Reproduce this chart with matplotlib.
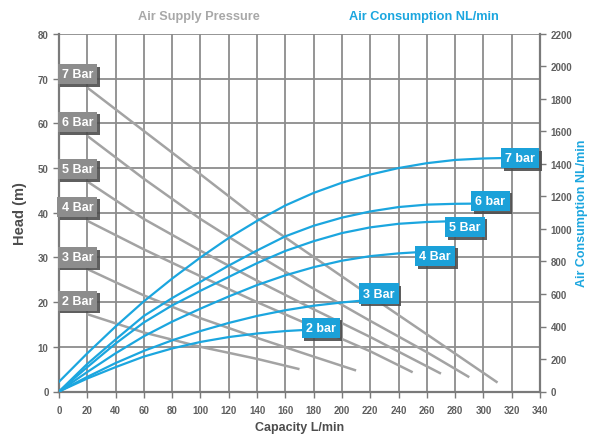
import matplotlib
matplotlib.use('Agg')
import matplotlib.pyplot as plt
import matplotlib.patheffects as pe

plt.rcParams['font.family'] = ['Liberation Sans', 'DejaVu Sans']

# ---------------- data ----------------
# Air supply pressure curves: head (m) vs capacity (L/min)
head_labels = ['7 Bar', '6 Bar', '5 Bar', '4 Bar', '3 Bar', '2 Bar']
cap_7 = [20, 60, 100, 140, 180, 220, 260, 310]
head_7 = [68, 58.3, 48.6, 38.8, 30.1, 21.4, 12.8, 2]
cap_6 = [20, 60, 100, 140, 180, 220, 260, 290]
head_6 = [57.2, 47.6, 38.6, 30.6, 23, 15.8, 8.8, 3.2]
cap_5 = [20, 60, 100, 140, 180, 220, 270]
head_5 = [47, 38.6, 31.5, 24.8, 18.4, 12.2, 4]
cap_4 = [20, 60, 100, 140, 180, 220, 250]
head_4 = [38.2, 31.8, 25.8, 20, 14.5, 9, 4.3]
cap_3 = [20, 60, 100, 140, 180, 210]
head_3 = [27.4, 21.5, 16.4, 12, 7.8, 4.7]
cap_2 = [20, 60, 100, 140, 170]
head_2 = [17.3, 13.2, 10, 7.3, 5]

# Air consumption curves: NL/min vs capacity (L/min)
air_labels = ['7 bar', '6 bar', '5 Bar', '4 Bar', '3 Bar', '2 bar']
acap_7 = [0, 20, 40, 60, 80, 100, 120, 140, 160, 180, 200, 220, 240, 260, 280, 300, 315]
air_7 = [60, 235, 400, 555, 695, 825, 945, 1050, 1145, 1222, 1285, 1335, 1375, 1405, 1425, 1434, 1437]
acap_6 = [0, 20, 40, 60, 80, 100, 120, 140, 160, 180, 200, 220, 240, 260, 280, 292]
air_6 = [0, 170, 320, 465, 575, 675, 775, 868, 955, 1020, 1070, 1108, 1135, 1150, 1155, 1156]
acap_5 = [0, 20, 40, 60, 80, 100, 120, 140, 160, 180, 200, 220, 240, 260, 274]
air_5 = [0, 150, 295, 425, 530, 620, 705, 790, 865, 925, 975, 1010, 1032, 1043, 1047]
acap_4 = [0, 20, 40, 60, 80, 100, 120, 140, 160, 180, 200, 220, 240, 253]
air_4 = [0, 120, 235, 340, 430, 510, 585, 655, 715, 765, 805, 833, 850, 857]
acap_3 = [0, 20, 40, 60, 80, 100, 120, 140, 160, 180, 200, 214]
air_3 = [0, 90, 175, 250, 315, 372, 422, 465, 500, 528, 548, 559]
acap_2 = [0, 20, 40, 60, 80, 100, 120, 140, 160, 172]
air_2 = [0, 80, 150, 215, 265, 305, 335, 357, 372, 378]

x_ticks = list(range(0, 341, 20))
y_ticks = list(range(0, 81, 10))
y2_ticks = list(range(0, 2201, 200))

# ---------------- style ----------------
GRAY_LINE = '#a3a3a3'
GRID = '#8c8c8c'
BLUE = '#1ba6df'
BLUE_BOX = '#1ba1d9'
GRAY_BOX = '#8d8d8d'
TICK_C = '#5f5f5f'

fig = plt.figure(figsize=(5.94, 4.35), dpi=100)
ax = fig.add_axes([59/594, 1-392.5/435, 481/594, 357.5/435])
ax.set_xlim(0, 340)
ax.set_ylim(0, 80)
ax.set_xticks(x_ticks)
ax.set_yticks(y_ticks)
ax.grid(True, color=GRID, lw=1.3, zorder=0)
ax.set_axisbelow(True)
for s in ['top', 'right']:
    ax.spines[s].set_visible(False)
for s in ['left', 'bottom']:
    ax.spines[s].set_color('#7a7a7a')
    ax.spines[s].set_linewidth(1.6)
ax.tick_params(axis='both', colors='#7a7a7a', labelcolor=TICK_C, labelsize=7,
               length=4, width=1)
ax.tick_params(axis='x', pad=6)
for lbl in ax.get_xticklabels() + ax.get_yticklabels():
    lbl.set_fontweight('bold')

gray_series = [(cap_7, head_7), (cap_6, head_6), (cap_5, head_5),
               (cap_4, head_4), (cap_3, head_3), (cap_2, head_2)]
for cx, hy in gray_series:
    ax.plot(cx, hy, color=GRAY_LINE, lw=1.8, solid_capstyle='butt', zorder=2)

ax2 = ax.twinx()
ax2.set_ylim(0, 2200)
ax2.set_yticks(y2_ticks)
for s in ['top', 'left', 'bottom']:
    ax2.spines[s].set_visible(False)
ax2.spines['right'].set_color('#7a7a7a')
ax2.spines['right'].set_linewidth(1.6)
ax2.tick_params(axis='y', colors='#7a7a7a', labelcolor=TICK_C, labelsize=7,
                length=4, width=1)
for lbl in ax2.get_yticklabels():
    lbl.set_fontweight('bold')

blue_series = [(acap_7, air_7), (acap_6, air_6), (acap_5, air_5),
               (acap_4, air_4), (acap_3, air_3), (acap_2, air_2)]
for cx, ny in blue_series:
    ax2.plot(cx, ny, color=BLUE, lw=1.6, zorder=3)


def box_label(axis, x, y, text, color):
    t = axis.text(x, y, text, ha='center', va='center', fontsize=9,
                  fontweight='bold', color='white', zorder=6,
                  bbox=dict(boxstyle='square,pad=0.33', fc=color, ec='none'))
    t.get_bbox_patch().set_path_effects([
        pe.SimplePatchShadow(offset=(1.8, -1.8), shadow_rgbFace='#4d4d4d', alpha=0.9),
        pe.Normal()])


# gray pressure labels (left), positioned in head units
gray_label_pos = [(13, 71), (13, 60.3), (13, 49.8), (13, 41.3), (13, 30), (13, 20.3)]
for (x, y), t in zip(gray_label_pos, head_labels):
    box_label(ax, x, y, t, GRAY_BOX)

# blue consumption labels, positioned in NL/min units
blue_label_pos = [(326, 1436), (305, 1172), (287, 1012), (266, 834), (226, 603), (185, 391)]
for (x, y), t in zip(blue_label_pos, air_labels):
    box_label(ax2, x, y, t, BLUE_BOX)

ax.set_xlabel('Capacity L/min', fontsize=9, fontweight='bold', color='#4d4d4d', labelpad=4)
ax.set_ylabel('Head (m)', fontsize=10.5, fontweight='bold', color='#4d4d4d', labelpad=8)
ax2.set_ylabel('Air Consumption NL/min', fontsize=9, fontweight='bold', color=BLUE)
ax2.yaxis.set_label_coords(1.075, 0.5)

fig.text(199/594, 1-17/435, 'Air Supply Pressure', ha='center', va='center',
         fontsize=9.2, fontweight='bold', color='#a8a8a8')
fig.text(424/594, 1-17/435, 'Air Consumption NL/min', ha='center', va='center',
         fontsize=9.2, fontweight='bold', color=BLUE)

fig.savefig('out.png', dpi=100)
